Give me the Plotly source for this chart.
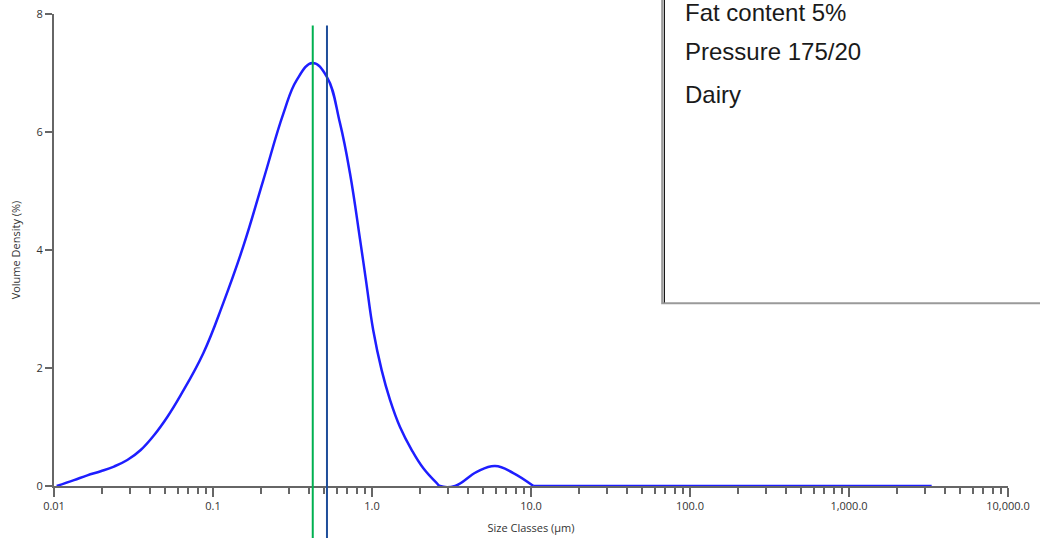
import plotly.graph_objects as go

# Data (particle size in µm, volume density in %)
size_um = [0.0104, 0.01336, 0.0162, 0.01967, 0.02384, 0.02891, 0.0351, 0.04256,
           0.0516, 0.06264, 0.0869, 0.116, 0.155, 0.207, 0.277, 0.336,
           0.422, 0.519, 0.629, 0.727, 0.841, 0.916, 1.018, 1.151, 1.298, 1.5,
           1.778, 2.104, 2.553, 2.68, 3.33, 4.56, 5.94, 7.74, 10.35]
volume_density = [0.0, 0.10, 0.18, 0.25, 0.33, 0.44, 0.61, 0.86,
                  1.17, 1.54, 2.25, 3.10, 4.06, 5.18, 6.31, 6.88,
                  7.17, 6.94, 6.15, 5.30, 4.18, 3.49, 2.64, 1.96, 1.46, 1.00,
                  0.61, 0.30, 0.05, 0.0, 0.0, 0.24, 0.34, 0.22, 0.0]

tail_size_um = [10.35, 100.0, 1000.0, 3311.0]
tail_density = [0.0, 0.0, 0.0, 0.0]

x_tickvals = [0.01, 0.1, 1, 10, 100, 1000, 10000]
x_ticktext = ["0.01", "0.1", "1.0", "10.0", "100.0", "1,000.0", "10,000.0"]
y_tickvals = [0, 2, 4, 6, 8]

marker_lines = [0.424, 0.521]
marker_colors = ["#00b050", "#1f4e9a"]

info_lines = ["Fat content 5%", "Pressure 175/20", "Dairy"]

curve_color = "#1e1eff"

fig = go.Figure()
fig.add_trace(go.Scatter(
    x=size_um, y=volume_density, mode="lines",
    line=dict(color=curve_color, width=2.5, shape="spline", smoothing=1.2),
    showlegend=False, hoverinfo="x+y"))
fig.add_trace(go.Scatter(
    x=tail_size_um, y=tail_density, mode="lines",
    line=dict(color=curve_color, width=2.5),
    showlegend=False, hoverinfo="x+y"))

for xv, col in zip(marker_lines, marker_colors):
    fig.add_shape(type="line", xref="x", yref="paper", x0=xv, x1=xv,
                  y0=-0.110, y1=0.9757, line=dict(color=col, width=2), layer="above")

# Info box (partly outside the visible page)
fig.add_shape(type="rect", xref="paper", yref="paper",
              x0=0.6375, x1=1.06, y0=0.387, y1=1.06,
              line=dict(color="#9a9a9a", width=2), fillcolor="white", layer="above")
fig.add_shape(type="line", xref="paper", yref="paper",
              x0=0.6398, x1=0.6398, y0=0.389, y1=1.06,
              line=dict(color="#111111", width=1.2), layer="above")

ys = [1.0032, 0.9196, 0.8286]
for t, yv in zip(info_lines, ys):
    fig.add_annotation(text=t, xref="paper", yref="paper", x=0.6593, y=yv,
                       xanchor="left", yanchor="middle", showarrow=False,
                       font=dict(family="Liberation Sans, Arial", size=24, color="#1a1a1a"))

axis_font = dict(family="Open Sans, Noto Sans, sans-serif", size=11, color="#333333")

fig.update_xaxes(type="log", range=[-2, 4], tickvals=x_tickvals, ticktext=x_ticktext,
                 showgrid=False, zeroline=False, showline=True, linecolor="#666666",
                 linewidth=2, ticks="outside", ticklen=9, tickwidth=1.5, tickcolor="#666666",
                 tickfont=axis_font,
                 minor=dict(ticks="outside", ticklen=6, tickwidth=1.5, tickcolor="#666666",
                            dtick="D1", showgrid=False),
                 title=dict(text="Size Classes (µm)", font=axis_font, standoff=12))
fig.update_yaxes(range=[0, 8], tickvals=y_tickvals, showgrid=False, zeroline=False,
                 showline=True, linecolor="#666666", linewidth=2, ticks="outside",
                 ticklen=7, tickwidth=1.5, tickcolor="#666666", tickfont=axis_font,
                 title=dict(text="Volume Density (%)", font=axis_font, standoff=14))

fig.update_layout(width=1040, height=546, plot_bgcolor="white", paper_bgcolor="white",
                  margin=dict(l=54, r=32, t=14, b=60, autoexpand=False), showlegend=False)

fig.write_html("out.html", config={"displayModeBar": False},
               post_script="document.body.style.margin='0px';")
